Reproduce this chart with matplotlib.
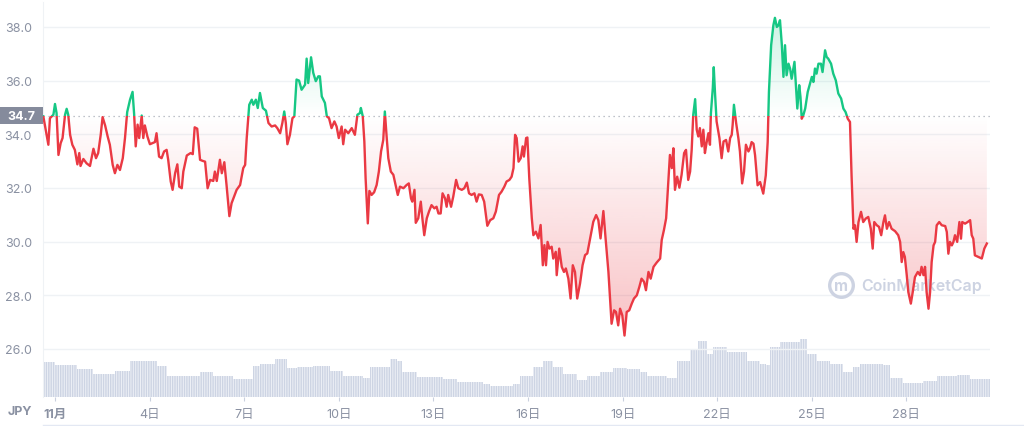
import matplotlib
matplotlib.use("Agg")
import matplotlib.pyplot as plt
import matplotlib.transforms as mtransforms
from matplotlib.patches import Rectangle
from matplotlib.path import Path
from matplotlib.lines import Line2D
import numpy as np

plt.rcParams['font.family'] = ['Inter', 'Noto Sans CJK JP', 'DejaVu Sans']

# time in days since 11/1, price in JPY
days = [-0.37, -0.21, -0.16, -0.05, 0.00, 0.05, 0.11, 0.18, 0.24, 0.32, 0.37, 0.42, 0.48, 0.55, 0.63,
        0.71, 0.77, 0.81, 0.90, 1.00, 1.11, 1.22, 1.30, 1.37, 1.45, 1.51, 1.59, 1.67, 1.74, 1.83,
        1.90, 1.98, 2.06, 2.15, 2.22, 2.29, 2.38, 2.46, 2.51, 2.56, 2.62, 2.67, 2.75, 2.80, 2.85,
        2.93, 3.01, 3.17, 3.22, 3.30, 3.38, 3.46, 3.54, 3.59, 3.67, 3.73, 3.81, 3.88, 3.94, 4.02,
        4.07, 4.18, 4.30, 4.37, 4.43, 4.51, 4.60, 4.68, 4.76, 4.84, 4.92, 5.02, 5.07, 5.13, 5.23,
        5.29, 5.37, 5.44, 5.53, 5.60, 5.76, 5.87, 5.97, 6.03, 6.08, 6.16, 6.24, 6.29, 6.37, 6.43,
        6.50, 6.59, 6.69, 6.77, 6.87, 6.98, 7.05, 7.14, 7.21, 7.27, 7.32, 7.37, 7.45, 7.53, 7.59,
        7.66, 7.74, 7.82, 7.93, 7.98, 8.03, 8.12, 8.19, 8.27, 8.35, 8.40, 8.46, 8.51, 8.56, 8.62,
        8.69, 8.77, 8.86, 8.93, 9.00, 9.09, 9.14, 9.20, 9.30, 9.41, 9.51, 9.59, 9.67, 9.70, 9.76,
        9.81, 9.85, 9.92, 9.97, 10.04, 10.12, 10.20, 10.27, 10.34, 10.41, 10.46, 10.52, 10.57, 10.65, 10.73,
        10.80, 10.87, 10.94, 11.05, 11.15, 11.22, 11.29, 11.33, 11.40, 11.44, 11.52, 11.60, 11.65, 11.71, 11.79,
        11.86, 11.94, 12.03, 12.10, 12.16, 12.23, 12.29, 12.37, 12.42, 12.47, 12.56, 12.63, 12.72, 12.79, 12.90,
        12.98, 13.06, 13.13, 13.21, 13.30, 13.37, 13.44, 13.53, 13.61, 13.71, 13.80, 13.90, 13.98, 14.08, 14.16,
        14.25, 14.32, 14.41, 14.48, 14.54, 14.59, 14.64, 14.70, 14.77, 14.83, 14.87, 14.94, 14.98, 15.04, 15.12,
        15.17, 15.25, 15.33, 15.40, 15.47, 15.52, 15.57, 15.62, 15.68, 15.75, 15.80, 15.88, 15.91, 15.99, 16.07,
        16.14, 16.20, 16.28, 16.35, 16.42, 16.49, 16.56, 16.65, 16.73, 16.81, 16.88, 16.97, 17.07, 17.16, 17.23,
        17.30, 17.39, 17.46, 17.55, 17.65, 17.73, 17.79, 17.86, 17.92, 17.99, 18.06, 18.13, 18.21, 18.29, 18.36,
        18.45, 18.53, 18.60, 18.68, 18.74, 18.82, 18.89, 18.98, 19.08, 19.19, 19.24, 19.31, 19.38, 19.45, 19.50,
        19.56, 19.61, 19.66, 19.73, 19.80, 19.87, 19.95, 20.01, 20.08, 20.14, 20.19, 20.24, 20.30, 20.35, 20.40,
        20.45, 20.51, 20.56, 20.61, 20.66, 20.72, 20.77, 20.80, 20.86, 20.89, 20.93, 20.98, 21.07, 21.14, 21.20,
        21.28, 21.35, 21.41, 21.46, 21.49, 21.53, 21.60, 21.67, 21.72, 21.79, 21.85, 21.91, 21.99, 22.04, 22.09,
        22.15, 22.20, 22.28, 22.36, 22.46, 22.54, 22.60, 22.64, 22.71, 22.78, 22.83, 22.89, 22.94, 22.99, 23.05,
        23.10, 23.15, 23.20, 23.26, 23.31, 23.36, 23.45, 23.49, 23.54, 23.60, 23.64, 23.68, 23.73, 23.79, 23.87,
        23.94, 24.00, 24.05, 24.10, 24.15, 24.21, 24.29, 24.34, 24.42, 24.47, 24.52, 24.61, 24.68, 24.76, 24.84,
        24.93, 25.00, 25.07, 25.14, 25.21, 25.26, 25.32, 25.37, 25.42, 25.48, 25.56, 25.63, 25.71, 25.79, 25.87,
        25.93, 25.98, 26.06, 26.13, 26.20, 26.27, 26.32, 26.38, 26.45, 26.53, 26.64, 26.74, 26.80, 26.85, 26.90,
        26.95, 27.01, 27.06, 27.14, 27.20, 27.27, 27.36, 27.43, 27.48, 27.54, 27.59, 27.64, 27.70, 27.75, 27.80,
        27.86, 27.91, 27.96, 28.04, 28.12, 28.23, 28.28, 28.33, 28.38, 28.44, 28.49, 28.54, 28.61, 28.68, 28.73,
        28.77, 28.86, 28.94, 29.02, 29.07, 29.12, 29.17, 29.28, 29.39, 29.47, 29.55]

price = [34.67, 33.61, 34.60, 34.73, 35.13, 34.79, 33.23, 33.67, 33.86, 34.73, 34.95, 34.73, 33.98, 33.61, 33.42,
         32.88, 33.30, 32.82, 33.08, 32.92, 32.82, 33.46, 33.11, 33.30, 33.98, 34.64, 34.33, 33.92, 33.61, 32.86,
         32.55, 32.86, 32.67, 33.11, 33.86, 34.83, 35.29, 35.58, 34.75, 33.55, 34.36, 33.86, 34.70, 33.86, 34.33,
         33.92, 33.63, 33.71, 34.04, 33.17, 33.11, 33.36, 33.42, 33.05, 32.24, 31.93, 32.55, 32.88, 32.05, 31.99,
         32.61, 33.21, 33.30, 33.26, 34.26, 34.21, 33.05, 33.01, 32.98, 31.99, 32.30, 32.26, 32.61, 32.26, 33.05,
         32.55, 32.96, 32.11, 30.95, 31.43, 31.93, 32.11, 32.74, 32.86, 33.86, 35.10, 35.29, 35.10, 35.29, 34.98,
         35.54, 34.98, 34.88, 34.42, 34.29, 34.33, 34.23, 34.04, 34.42, 34.85, 34.42, 33.63, 33.98, 34.60, 34.67,
         36.04, 36.00, 35.66, 35.85, 36.82, 35.91, 36.87, 36.29, 35.98, 36.16, 36.16, 35.41, 35.29, 35.17, 34.67,
         34.60, 34.23, 34.48, 34.29, 33.86, 34.29, 33.63, 34.17, 34.04, 34.23, 33.98, 34.73, 34.79, 34.98, 34.67,
         33.73, 32.36, 30.68, 31.89, 31.74, 31.84, 32.11, 32.61, 33.36, 33.79, 34.85, 33.86, 33.11, 32.61, 32.49,
         32.11, 31.74, 32.05, 31.99, 32.11, 32.17, 31.61, 31.49, 31.93, 30.70, 30.87, 31.49, 30.87, 30.24, 30.87,
         31.12, 31.36, 31.24, 31.30, 31.05, 31.05, 31.80, 31.61, 31.30, 31.74, 31.30, 31.68, 32.30, 31.99, 31.93,
         31.99, 32.20, 31.80, 31.74, 31.80, 31.49, 31.76, 31.74, 31.49, 30.59, 30.80, 30.87, 31.12, 31.74, 31.86,
         32.05, 32.24, 32.30, 32.42, 32.74, 33.98, 33.86, 32.98, 33.11, 33.55, 33.17, 33.86, 33.88, 32.36, 30.87,
         30.24, 30.37, 30.12, 30.62, 29.12, 29.87, 29.12, 29.99, 29.74, 29.81, 29.37, 29.62, 28.75, 29.74, 29.06,
         28.87, 29.00, 28.62, 27.88, 29.12, 28.87, 27.88, 28.44, 29.12, 29.50, 29.56, 30.12, 30.74, 30.99, 30.80,
         30.12, 31.14, 30.12, 28.87, 26.94, 27.44, 27.38, 26.88, 27.50, 27.25, 26.50, 27.38, 27.44, 27.69, 27.88,
         28.00, 28.31, 28.62, 28.50, 28.19, 28.87, 28.62, 29.06, 29.22, 29.37, 30.06, 30.43, 30.87, 32.24, 33.23,
         32.74, 33.48, 31.93, 32.42, 32.01, 32.49, 33.30, 33.42, 32.30, 32.61, 33.42, 34.73, 35.31, 34.17, 33.92,
         34.23, 33.55, 34.17, 33.30, 33.67, 34.04, 33.61, 34.79, 35.73, 36.50, 35.54, 34.48, 33.86, 33.11, 33.73,
         33.79, 33.36, 33.86, 33.98, 34.36, 35.10, 34.42, 33.86, 33.36, 32.17, 32.61, 33.61, 33.36, 33.48, 33.71,
         33.65, 33.22, 32.10, 32.22, 31.79, 32.47, 33.71, 35.58, 37.32, 38.06, 38.34, 38.00, 38.06, 38.25, 37.32,
         36.14, 37.32, 36.20, 36.63, 36.45, 36.07, 36.70, 35.95, 34.96, 35.83, 35.39, 34.58, 34.71, 34.96, 35.58,
         35.89, 36.14, 35.95, 36.45, 36.26, 36.63, 36.63, 36.32, 37.13, 36.88, 36.82, 36.63, 36.26, 36.01, 35.52,
         35.33, 34.96, 34.83, 34.58, 34.46, 32.47, 30.48, 30.61, 29.99, 30.73, 31.11, 30.73, 30.86, 30.92, 30.48,
         29.74, 30.73, 30.61, 30.55, 30.24, 30.73, 30.98, 30.48, 30.73, 30.48, 30.39, 30.24, 29.99, 29.24, 29.61,
         29.43, 28.75, 28.12, 27.69, 28.12, 28.68, 28.87, 28.75, 29.06, 28.75, 29.06, 28.12, 27.50, 28.12, 29.24,
         29.86, 29.99, 30.61, 30.73, 30.61, 30.58, 30.36, 29.55, 29.99, 29.86, 29.99, 30.24, 29.99, 30.73, 30.11,
         30.73, 30.67, 30.73, 30.80, 30.24, 30.11, 29.49, 29.43, 29.37, 29.74, 29.93]

# volume (relative units)
vol_days = [-0.38, 0.00, 0.70, 1.21, 1.90, 2.38, 2.92, 3.24, 3.55, 4.19, 4.60, 5.01, 5.65, 6.09, 6.28,
            6.50, 6.98, 7.36, 7.68, 8.18, 8.72, 9.13, 9.77, 9.99, 10.62, 10.85, 11.01, 11.48, 11.80, 12.31,
            12.75, 13.57, 13.80, 14.34, 14.53, 14.75, 15.16, 15.48, 15.79, 16.11, 16.56, 16.87, 17.28, 17.70, 18.14,
            18.55, 18.78, 19.41, 19.73, 20.14, 20.39, 20.68, 20.87, 21.31, 21.63, 21.95, 22.36, 22.55, 22.68, 23.00,
            23.63, 23.85, 24.17, 24.58, 24.99, 25.31, 25.53, 26.26, 26.49, 26.89, 27.53, 27.97, 28.61, 29.02, 29.65]
volume = [35, 32, 28, 23, 26, 36, 36, 31, 21, 21, 25, 21, 18, 18, 31,
          33, 38, 29, 30, 31, 26, 21, 19, 30, 38, 36, 25, 20, 20, 18,
          15, 13, 11, 11, 13, 21, 30, 36, 30, 23, 17, 21, 25, 29, 28,
          25, 21, 19, 36, 48, 56, 43, 50, 45, 45, 36, 33, 32, 50, 55,
          58, 43, 36, 33, 25, 30, 33, 32, 19, 14, 16, 21, 22, 18, 16]

baseline = 34.7
yticks = [26.0, 28.0, 30.0, 32.0, 34.0, 36.0, 38.0]
tick_days = [0, 3, 6, 9, 12, 15, 18, 21, 24, 27]
tick_labels = ['11月', '4日', '7日', '10日', '13日', '16日', '19日', '22日', '25日', '28日']

red = '#ea3943'
green = '#16c784'
grey = '#8a91a2'

fig = plt.figure(figsize=(10.24, 4.27), dpi=100)
rect = [43/1024, 29/427, 947/1024, 395/427]
axv = fig.add_axes(rect)
ax = fig.add_axes(rect)
ax.patch.set_visible(False)

x0, x1 = -0.38, 29.65

# volume bars
axv.fill_between(vol_days, volume, step='post', facecolor='#eef1f7', edgecolor='#cdd4e3',
                 hatch='|' * 7, linewidth=0)
axv.set_xlim(x0, x1)
axv.set_ylim(0, 395)
axv.axis('off')

# price
ax.set_xlim(x0, x1)
ax.set_ylim(24.21, 38.93)
ax.set_yticks(yticks)
ax.set_yticklabels(['%.1f' % v for v in yticks])
ax.set_xticks(tick_days)
ax.set_xticklabels(tick_labels)
ax.grid(axis='y', color='#eff2f5', lw=1)
ax.set_axisbelow(True)
for s in ['top', 'right', 'bottom']:
    ax.spines[s].set_visible(False)
ax.spines['left'].set_color('#eff2f5')
ax.tick_params(axis='y', length=0, pad=8, labelcolor=grey, labelsize=9)
ax.tick_params(axis='x', length=3, color='#c9d0de', pad=5, labelcolor=grey, labelsize=9)
ax.get_xticklabels()[0].set_fontweight('bold')

# gradient fills between line and baseline
poly = Path(np.column_stack([np.r_[days, days[::-1]],
                             np.r_[price, np.full(len(days), baseline)]]))
n = 256
g = np.zeros((n, 1, 4))
g[:, 0, :3] = matplotlib.colors.to_rgb(red)
g[:, 0, 3] = np.linspace(0.32, 0.0, n)
im = ax.imshow(g, extent=[x0, x1, 26.3, baseline], origin='lower', aspect='auto', zorder=1)
im.set_clip_path(poly, ax.transData)
g2 = np.zeros((n, 1, 4))
g2[:, 0, :3] = matplotlib.colors.to_rgb(green)
g2[:, 0, 3] = np.linspace(0.0, 0.22, n)
im2 = ax.imshow(g2, extent=[x0, x1, baseline, 38.4], origin='lower', aspect='auto', zorder=1)
im2.set_clip_path(poly, ax.transData)
ax.set_xlim(x0, x1)
ax.set_ylim(24.21, 38.93)

ax.axhline(baseline, color='#a9aeb8', lw=0.9, ls=(0, (1, 3)), zorder=2)

for col, lo, hi in [(red, 20, baseline), (green, baseline, 45)]:
    ln, = ax.plot(days, price, color=col, lw=1.7, solid_joinstyle='round', zorder=3)
    clip = Rectangle((x0, lo), x1 - x0, hi - lo, transform=ax.transData)
    ln.set_clip_path(clip)

# baseline label
bt = mtransforms.blended_transform_factory(fig.transFigure, ax.transData)
fig.patches.append(Rectangle((0, baseline - 0.3), 43/1024, 0.6, transform=bt,
                             facecolor='#858b9c', edgecolor='none'))
fig.text(35/1024, baseline, '34.7', transform=bt, ha='right', va='center',
         color='white', fontsize=9, fontweight='bold')

fig.text(8/1024, 1 - 412/427, 'JPY', color=grey, fontsize=9, fontweight='bold', va='center')
fig.add_artist(Line2D([43/1024, 1], [1 - 426/427] * 2, transform=fig.transFigure,
                      color='#e3e8f3', lw=1))

# watermark
ax.plot([0.843], [0.2835], marker='o', ms=17, mfc='none', mec='#cdd3e2', mew=2.4,
        transform=ax.transAxes, zorder=2)
ax.text(0.843, 0.2835, 'm', transform=ax.transAxes, ha='center', va='center',
        color='#cdd3e2', fontsize=11, fontweight='bold', zorder=2)
ax.text(0.8645, 0.2835, 'CoinMarketCap', transform=ax.transAxes, ha='left', va='center',
        color='#cdd3e2', fontsize=11.5, fontweight='semibold', zorder=2)

fig.savefig('out.png', dpi=100)
